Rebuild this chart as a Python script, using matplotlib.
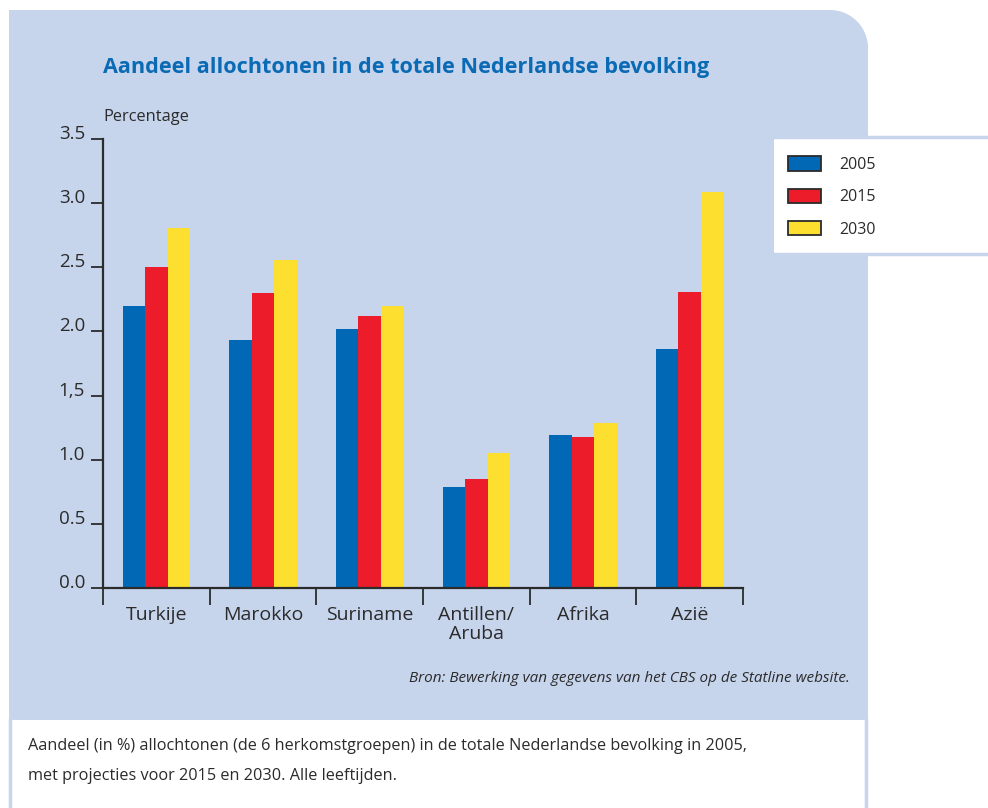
import numpy as np
import matplotlib
matplotlib.use('Agg')
import matplotlib.pyplot as plt
from matplotlib.patches import Rectangle, PathPatch, Patch
from matplotlib.path import Path
from matplotlib.ticker import FixedLocator

plt.rc('font', family='Open Sans')

# share of each origin group in the total Dutch population (%)
groups = ['Turkije', 'Marokko', 'Suriname', 'Antillen/\nAruba', 'Afrika', 'Azië']
years = ['2005', '2015', '2030']
pct_2005 = [2.20, 1.93, 2.02, 0.79, 1.19, 1.86]
pct_2015 = [2.50, 2.30, 2.12, 0.85, 1.18, 2.31]
pct_2030 = [2.81, 2.56, 2.20, 1.05, 1.29, 3.09]

ytick_vals = [0.0, 0.5, 1.0, 1.5, 2.0, 2.5, 3.0, 3.5]
ytick_labels = ['0.0', '0.5', '1.0', '1,5', '2.0', '2.5', '3.0', '3.5']

BLUE = '#0068b4'
RED = '#ec1c2a'
YELLOW = '#fde02f'
PANEL = '#c6d4ec'
INK = '#2b2b2b'
TITLE_BLUE = '#0a6ab4'

W, H = 988, 808
fig = plt.figure(figsize=(W / 100, H / 100), dpi=100)


def px(x, y):
    # pixel position (from top-left) -> figure fraction
    return x / W, 1 - y / H


# light blue panel with a rounded top-right corner
x0, y0, x1, y1, r = 9, 10, 868, 720, 38
t = np.linspace(np.pi / 2, 0, 20)
corner = [(x1 - r + r * np.cos(a), y0 + r - r * np.sin(a)) for a in t]
verts = [(x0, y1), (x0, y0)] + corner + [(x1, y1), (x0, y1)]
verts = [px(x, y) for x, y in verts]
codes = [Path.MOVETO] + [Path.LINETO] * (len(verts) - 2) + [Path.CLOSEPOLY]
fig.patches.append(PathPatch(Path(verts, codes), facecolor=PANEL, edgecolor='none',
                             transform=fig.transFigure, zorder=0))

# white caption box below the panel
fig.patches.append(Rectangle(px(10, 808), 856 / W, 88 / H, facecolor='white',
                             edgecolor='none', transform=fig.transFigure, zorder=1))
for xl in (10, 866):
    fig.add_artist(plt.Line2D([xl / W, xl / W], [0, 1 - 720 / H], color=PANEL, lw=2.5,
                              transform=fig.transFigure, zorder=2))

# legend box
fig.patches.append(Rectangle(px(774, 254), 214 / W, 117 / H, facecolor='white',
                             edgecolor='none', transform=fig.transFigure, zorder=1))
for yl in (137, 254):
    fig.add_artist(plt.Line2D([774 / W, 1], [1 - yl / H] * 2, color=PANEL, lw=2.5,
                              transform=fig.transFigure, zorder=2))

# plot area
ax = fig.add_axes([103 / W, 1 - 588 / H, 640 / W, 449 / H])
ax.set_facecolor('none')
ax.set_zorder(3)

x = np.arange(len(groups))
bw = 0.21
ax.bar(x - bw, pct_2005, bw, color=BLUE, label=years[0])
ax.bar(x, pct_2015, bw, color=RED, label=years[1])
ax.bar(x + bw, pct_2030, bw, color=YELLOW, label=years[2])

ax.set_xlim(-0.5, len(groups) - 0.5)
ax.set_ylim(0, 3.5)

for side in ('top', 'right'):
    ax.spines[side].set_visible(False)
for side in ('left', 'bottom'):
    ax.spines[side].set_color(INK)
    ax.spines[side].set_linewidth(1.6)

ax.set_yticks(ytick_vals)
ax.set_yticklabels(ytick_labels, fontsize=13.5, color=INK)
for lab in ax.get_yticklabels():
    lab.set_va('baseline')
ax.tick_params(axis='y', length=9, width=1.3, color=INK, pad=4)

ax.set_xticks(x)
ax.set_xticklabels(groups, fontsize=14, color=INK, linespacing=1.05, va='top')
ax.tick_params(axis='x', which='major', length=0, pad=13)
ax.xaxis.set_minor_locator(FixedLocator(np.arange(len(groups) + 1) - 0.5))
ax.tick_params(axis='x', which='minor', length=12, width=1.3, color=INK)

fig.text(103 / W, 1 - 117 / H, 'Percentage', fontsize=11.8, color=INK, va='center')
fig.text(103 / W, 1 - 68 / H, 'Aandeel allochtonen in de totale Nederlandse bevolking',
         fontsize=15.6, fontweight='bold', color=TITLE_BLUE, va='center')

handles = [Patch(facecolor=c, edgecolor=INK, linewidth=1.3) for c in (BLUE, RED, YELLOW)]
fig.legend(handles, years, loc='upper left', bbox_to_anchor=px(774, 142), frameon=False,
           fontsize=11.5, handlelength=2.05, handleheight=1.0, handletextpad=1.15,
           labelspacing=0.98, labelcolor=INK)

fig.text(850 / W, 1 - 679 / H, 'Bron: Bewerking van gegevens van het CBS op de Statline website.',
         fontsize=11, style='italic', color=INK, ha='right', va='center')
fig.text(28 / W, 1 - 746 / H,
         'Aandeel (in %) allochtonen (de 6 herkomstgroepen) in de totale Nederlandse bevolking in 2005,',
         fontsize=11.7, color=INK, va='center')
fig.text(28 / W, 1 - 776 / H, 'met projecties voor 2015 en 2030. Alle leeftijden.',
         fontsize=11.7, color=INK, va='center')

fig.savefig('out.png', dpi=100)
